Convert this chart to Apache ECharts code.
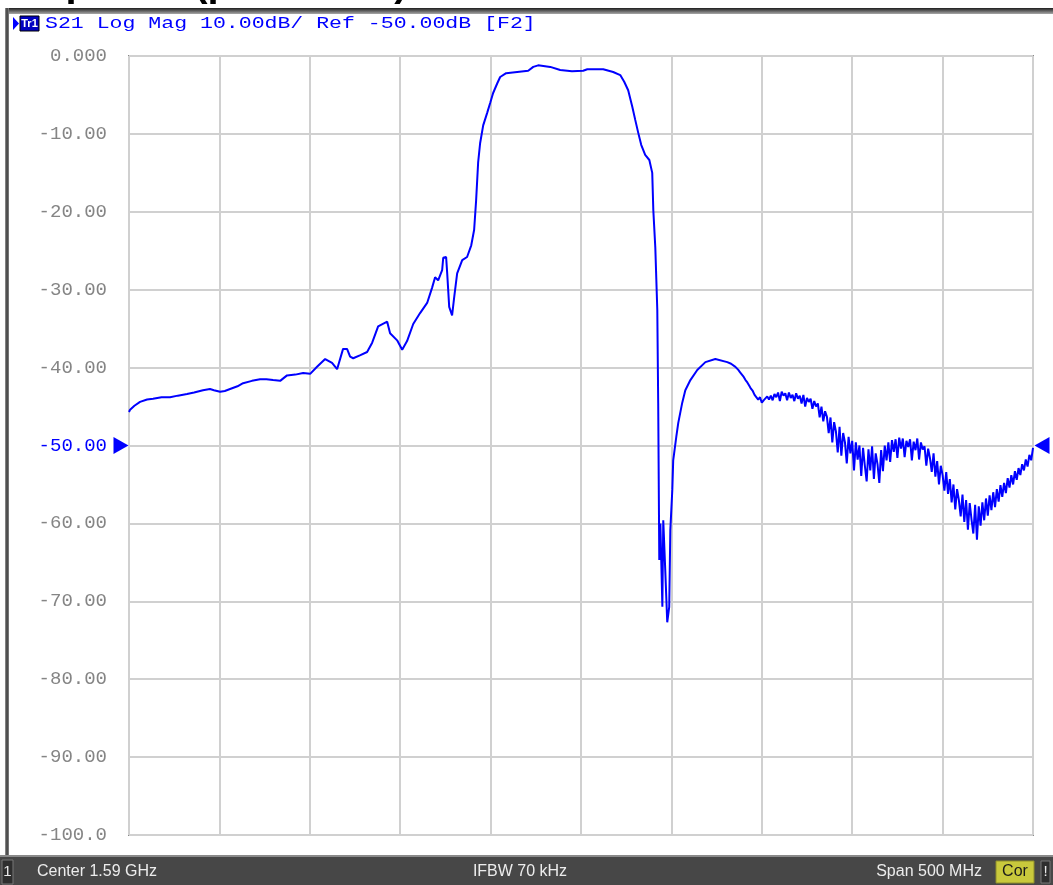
<!DOCTYPE html>
<html>
<head>
<meta charset="utf-8">
<script src="https://cdn.jsdelivr.net/npm/echarts@6/dist/echarts.min.js"></script>
<style>
  html, body { margin: 0; padding: 0; background: #fff; }
  #chart { width: 1053px; height: 885px; }
</style>
</head>
<body>
<div id="chart"></div>
<script>
// sweep: center 1.59 GHz, span 500 MHz
const centerMHz = 1590
const spanMHz = 500

// trace S21 (dB), hand
const sweepFreqMHz = [
  1340.0, 1340.6, 1343, 1346.1, 1350, 1353.3, 1358, 1362.7, 1367, 1372.1,
  1376, 1380.9, 1384.8, 1387, 1390.4, 1393, 1395.9, 1400, 1403.1, 1408,
  1412.5, 1416, 1419.7, 1423.6, 1427.4, 1432, 1436.3, 1440.2, 1444.0, 1448.5,
  1452.3, 1455.1, 1458.4, 1460.6, 1462.3, 1464.0, 1468, 1471.7, 1474.5, 1477.8,
  1482.8, 1484.4, 1488.3, 1491.1, 1493.8, 1497.2, 1501.0, 1504.9, 1507.7, 1509.3,
  1511.0, 1513.2, 1513.8, 1515.4, 1516.0, 1517.1, 1518.7, 1519.9, 1521.5, 1524.3,
  1527.0, 1529.3, 1530.9, 1532.0, 1533.1, 1534.2, 1535.9, 1538.1, 1539.8, 1541.4,
  1543.7, 1545.3, 1548.6, 1554.7, 1560.8, 1563.6, 1566.3, 1573.0, 1578.5, 1585,
  1591.2, 1593.5, 1602.3, 1607.8, 1611.7, 1613.9, 1616.1, 1618.4, 1620.0, 1621.7,
  1623.3, 1625.5, 1627.8, 1629.4, 1630.0, 1631.1, 1632.2, 1632.7, 1633.3, 1633.9,
  1635.0, 1635.5, 1636.6, 1637.7, 1638.8, 1639.4, 1640.5, 1641.0, 1642.7, 1643.8,
  1646.0, 1647.7, 1650.5, 1654.3, 1658.8, 1664.3, 1670.9, 1673, 1675.4
]
const sweepDb = [
  -45.7, -45.4, -44.9, -44.4, -44.1, -44.0, -43.8, -43.8, -43.6, -43.4,
  -43.2, -42.9, -42.75, -42.9, -43.1, -43.0, -42.75, -42.4, -42.0, -41.7,
  -41.5, -41.5, -41.6, -41.7, -41.0, -40.9, -40.7, -40.8, -39.9, -38.9,
  -39.4, -40.2, -37.6, -37.6, -38.6, -38.8, -38.4, -38.0, -36.8, -34.7,
  -34.1, -35.6, -36.5, -37.7, -36.6, -34.4, -33.0, -31.7, -29.7, -28.4,
  -28.8, -27.5, -25.9, -25.8, -27.9, -32.2, -33.3, -30.9, -27.9, -26.2,
  -25.8, -24.3, -22.3, -18.5, -13.7, -11.2, -8.9, -7.3, -6.0, -4.75,
  -3.5, -2.7, -2.2, -2.05, -1.9, -1.4, -1.2, -1.4, -1.8, -1.95,
  -1.9, -1.7, -1.7, -2.05, -2.45, -3.3, -4.4, -6.55, -8.2, -9.9,
  -11.4, -12.7, -13.35, -15.0, -19.8, -24.6, -32.6, -44.5, -64.7, -60.0,
  -70.7, -59.6, -66.0, -72.7, -70.7, -60.9, -55.7, -51.9, -48.9, -47.1,
  -44.5, -42.9, -41.6, -40.3, -39.3, -38.9, -39.3, -39.5, -39.9
]
// noisy upper stop band, 1 MHz per point from 1676 MHz
const tailStartMHz = 1676
const tailStepMHz = 1
const tailDb = [
  -40.0, -40.3, -40.6, -40.9, -41.2, -41.6, -41.9, -42.3, -42.7, -43.0,
  -43.5, -43.7, -44.1, -43.8, -44.5, -44.2, -44.4, -43.7, -44.1, -43.6,
  -44.2, -43.4, -43.8, -43.2, -44.3, -43.1, -43.6, -43.3, -44.2, -43.2,
  -43.9, -43.5, -44.3, -43.3, -44.0, -43.6, -44.6, -43.5, -45.0, -43.9,
  -44.4, -44.0, -45.3, -44.3, -45.0, -44.6, -46.4, -45.0, -46.9, -45.6,
  -46.3, -48.4, -46.4, -49.6, -47.0, -48.2, -50.9, -47.6, -51.3, -48.4,
  -49.6, -52.3, -48.9, -51.0, -49.4, -53.2, -49.6, -51.8, -50.0, -53.9,
  -50.3, -52.6, -54.6, -50.5, -53.2, -50.1, -54.3, -51.0, -52.4, -54.8,
  -50.6, -53.3, -50.0, -51.9, -49.6, -52.1, -49.3, -50.8, -49.2, -51.6,
  -49.0, -50.4, -49.1, -51.5, -49.4, -50.2, -49.2, -51.9, -49.5, -50.6,
  -49.1, -51.8, -49.6, -50.5, -50.1, -52.6, -50.4, -51.6, -53.4, -51.0,
  -54.0, -52.0, -55.0, -52.6, -53.8, -55.8, -53.4, -56.2, -54.3, -57.3,
  -55.0, -58.2, -55.6, -57.0, -59.1, -56.3, -59.8, -57.0, -60.8, -57.4,
  -59.5, -61.3, -57.6, -62.1, -57.8, -60.3, -57.3, -59.6, -56.8, -59.0,
  -56.4, -58.3, -56.0, -57.9, -55.6, -57.2, -55.1, -56.6, -54.8, -56.1,
  -54.2, -55.4, -53.8, -55.0, -53.3, -54.4, -52.9, -53.8, -52.4, -53.2,
  -51.8, -52.7, -51.2, -51.9, -50.3
]

const refLevelDb = -50
const yTickValues = [0, -10, -20, -30, -40, -50, -60, -70, -80, -90, -100]
const yTickLabels = ['0.000', '-10.00', '-20.00', '-30.00', '-40.00', '-50.00', '-60.00', '-70.00', '-80.00', '-90.00', '-100.0']

const headerText = 'S21 Log Mag 10.00dB/ Ref -50.00dB [F2]'
const statusLeft = 'Center 1.59 GHz'
const statusMid = 'IFBW 70 kHz'
const statusRight = 'Span 500 MHz'

// x is plotted as offset from center so the grid starts on a multiple of 50
const traceData = sweepFreqMHz.map((f, i) => [f - centerMHz, sweepDb[i]])
tailDb.forEach((v, i) => traceData.push([tailStartMHz + i * tailStepMHz - centerMHz, v]))

const monoFont = '"Liberation Mono", "DejaVu Sans Mono", monospace'
const statusFont = '16px "Liberation Sans Narrow", "Liberation Sans", Arial'
const traceBlue = '#0000ff'

const chart = echarts.init(document.getElementById('chart'), null, { renderer: 'canvas' })

chart.setOption({
  animation: false,
  backgroundColor: '#ffffff',
  grid: {
    left: 129, right: 20, top: 56, bottom: 50,
    show: true,
    backgroundColor: '#ffffff',
    borderColor: '#8a8a8a',
    borderWidth: 2
  },
  xAxis: {
    type: 'value',
    min: -spanMHz / 2,
    max: spanMHz / 2,
    interval: 50,
    axisLine: { show: false },
    axisTick: { show: false },
    axisLabel: { show: false },
    splitLine: { show: true, lineStyle: { color: '#d0d0d0', width: 2 } }
  },
  yAxis: {
    type: 'value',
    min: -100,
    max: 0,
    interval: 10,
    axisLine: { show: false },
    axisTick: { show: false },
    splitLine: { show: true, lineStyle: { color: '#d0d0d0', width: 2 } },
    axisLabel: {
      margin: 22,
      fontFamily: monoFont,
      fontSize: 19,
      color: (v) => (v == refLevelDb ? traceBlue : '#858585'),
      formatter: (v) => {
        const i = yTickValues.indexOf(v)
        return i >= 0 ? yTickLabels[i] : ''
      }
    }
  },
  series: [{
    type: 'line',
    data: traceData,
    showSymbol: false,
    lineStyle: { color: traceBlue, width: 2 },
    markPoint: {
      silent: true,
      label: { show: false },
      itemStyle: { color: traceBlue },
      data: [
        { coord: [-spanMHz / 2, refLevelDb], symbol: 'triangle', symbolRotate: -90, symbolSize: [17, 15], symbolOffset: [-8, 0] },
        { coord: [spanMHz / 2, refLevelDb], symbol: 'triangle', symbolRotate: 90, symbolSize: [17, 15], symbolOffset: [9, 0] }
      ]
    }
  }],
  graphic: [
    // cut-off title on top
    {
      type: 'text', left: -8, top: -35, silent: true,
      style: { text: 'Response (passband)', fill: '#000', font: 'bold 40px "Liberation Sans", Arial' }
    },
    // window frame
    {
      type: 'rect', shape: { x: 5, y: 8, width: 1048, height: 6 },
      style: { fill: new echarts.graphic.LinearGradient(0, 0, 0, 1, [{ offset: 0, color: '#1e1e1e' }, { offset: 1, color: '#a8a8a8' }]) }
    },
    {
      type: 'rect', shape: { x: 5, y: 8, width: 4, height: 848 },
      style: { fill: new echarts.graphic.LinearGradient(0, 0, 1, 0, [{ offset: 0, color: '#9a9a9a' }, { offset: 0.5, color: '#3a3a3a' }, { offset: 1, color: '#8a8a8a' }]) }
    },
    // trace header
    {
      type: 'polygon', shape: { points: [[13, 17], [19, 23.5], [13, 30]] },
      style: { fill: traceBlue }
    },
    {
      type: 'rect', shape: { x: 20, y: 16, width: 19, height: 15 },
      style: { fill: '#0000c0', stroke: '#000', lineWidth: 1 }
    },
    {
      type: 'text', x: 29.5, y: 24,
      style: { text: 'Tr1', fill: '#fff', font: 'bold 11px "Liberation Sans", Arial', align: 'center', verticalAlign: 'middle' }
    },
    {
      type: 'text', x: 45, y: 24, scaleX: 1.345,
      style: { text: headerText, fill: traceBlue, font: '16px ' + monoFont, verticalAlign: 'middle' }
    },
    // status bar
    {
      type: 'rect', shape: { x: 0, y: 855, width: 1053, height: 30 },
      style: { fill: '#474747' }
    },
    {
      type: 'rect', shape: { x: 0, y: 855, width: 1053, height: 2 },
      style: { fill: '#8a8a8a' }
    },
    {
      type: 'rect', shape: { x: 2, y: 860, width: 11, height: 24 },
      style: { fill: '#2e2e2e', stroke: '#777', lineWidth: 1 }
    },
    {
      type: 'text', x: 7.5, y: 872,
      style: { text: '1', fill: '#e8e8e8', font: '15px "Liberation Sans", Arial', align: 'center', verticalAlign: 'middle' }
    },
    {
      type: 'text', x: 37, y: 872,
      style: { text: statusLeft, fill: '#ececec', font: statusFont, verticalAlign: 'middle' }
    },
    {
      type: 'text', x: 520, y: 872,
      style: { text: statusMid, fill: '#ececec', font: statusFont, align: 'center', verticalAlign: 'middle' }
    },
    {
      type: 'text', x: 982, y: 872,
      style: { text: statusRight, fill: '#ececec', font: statusFont, align: 'right', verticalAlign: 'middle' }
    },
    {
      type: 'rect', shape: { x: 996, y: 861, width: 38, height: 22 },
      style: { fill: '#c9c93c', stroke: '#8f8f2a', lineWidth: 1 }
    },
    {
      type: 'text', x: 1015, y: 872,
      style: { text: 'Cor', fill: '#1a1a1a', font: statusFont, align: 'center', verticalAlign: 'middle' }
    },
    {
      type: 'rect', shape: { x: 1041, y: 861, width: 9, height: 22 },
      style: { fill: '#2e2e2e', stroke: '#777', lineWidth: 1 }
    },
    {
      type: 'text', x: 1045.5, y: 872,
      style: { text: '!', fill: '#e8e8e8', font: '15px "Liberation Sans", Arial', align: 'center', verticalAlign: 'middle' }
    }
  ]
})
</script>
</body>
</html>
